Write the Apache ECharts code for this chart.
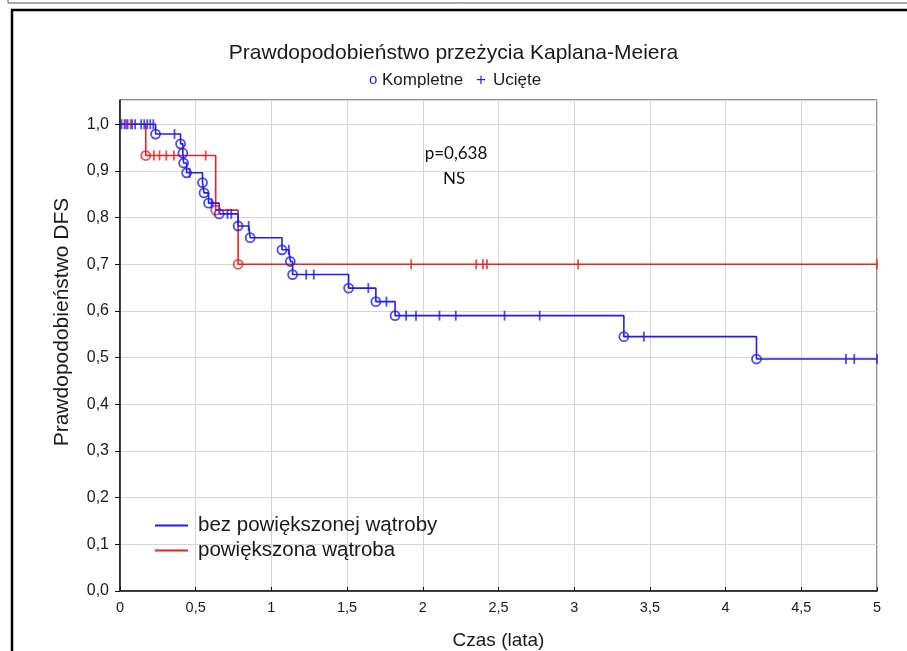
<!DOCTYPE html>
<html>
<head>
<meta charset="utf-8">
<script src="https://cdn.jsdelivr.net/npm/echarts@6/dist/echarts.min.js"></script>
<style>
  html, body { margin: 0; padding: 0; background: #fff; }
  #chart { width: 907px; height: 651px; }
</style>
</head>
<body>
<div id="chart"></div>
<script>
// Axis tick labels (Polish decimal comma)
const xTickLabels = ['0', '0,5', '1', '1,5', '2', '2,5', '3', '3,5', '4', '4,5', '5'];
const yTickLabels = ['0,0', '0,1', '0,2', '0,3', '0,4', '0,5', '0,6', '0,7', '0,8', '0,9', '1,0'];

// Group without enlarged liver: event times (years) and survival after each event
const blueEventTimes = [0.235, 0.40, 0.415, 0.42, 0.44, 0.545, 0.555, 0.585, 0.655, 0.78, 0.86, 1.07, 1.125, 1.14, 1.51, 1.69, 1.817, 3.328, 4.204];
const blueEventSurv  = [0.979, 0.958, 0.938, 0.917, 0.896, 0.875, 0.853, 0.831, 0.808, 0.782, 0.757, 0.731, 0.706, 0.678, 0.649, 0.620, 0.590, 0.545, 0.497];
// censored observations
const blueCensorTimes = [0.01, 0.03, 0.05, 0.08, 0.10, 0.14, 0.16, 0.18, 0.20, 0.22, 0.36, 0.46, 0.605, 0.71, 0.735, 0.85, 1.115, 1.23, 1.28, 1.64, 1.76, 1.89, 1.955, 2.11, 2.218, 2.54, 2.772, 3.46, 4.795, 4.85, 5.0];

// Group with enlarged liver
const redEventTimes = [0.17, 0.632, 0.78];
const redEventSurv  = [0.933, 0.816, 0.700];
const redCensorTimes = [0.04, 0.07, 0.224, 0.261, 0.306, 0.356, 0.566, 1.923, 2.353, 2.397, 2.424, 3.026, 5.0];

const seriesNames = ['bez powiększonej wątroby', 'powiększona wątroba'];
const BLUE = '#1f1fe6';
const RED = '#e8221f';
const FONT = 'Liberation Sans';

// Build step-curve vertices, event points and censor points from the lists
function kmCurve(evT, evS, cenT) {
  const items = [];
  evT.forEach((t, i) => items.push({ t: t, s: evS[i], ev: true }));
  cenT.forEach(t => items.push({ t: t, ev: false }));
  items.sort((a, b) => a.t - b.t || (a.ev ? -1 : 1));
  let cur = 1;
  const line = [[0, 1]], events = [], censors = [];
  items.forEach(it => {
    if (it.ev) { cur = it.s; events.push([it.t, cur]); }
    else censors.push([it.t, cur]);
    line.push([it.t, cur]);
  });
  return { line, events, censors };
}

const blue = kmCurve(blueEventTimes, blueEventSurv, blueCensorTimes);
const red = kmCurve(redEventTimes, redEventSurv, redCensorTimes);

function censorSeries(data, color, z) {
  return {
    type: 'scatter', data: data, symbol: 'rect', symbolSize: [1.8, 10],
    itemStyle: { color: color }, z: z, silent: true
  };
}
function eventSeries(data, color, z) {
  return {
    type: 'scatter', data: data, symbol: 'circle', symbolSize: 9,
    itemStyle: { color: 'rgba(255,255,255,0)', borderColor: color, borderWidth: 1.8 }, z: z, silent: true
  };
}

function label(x, text, fill, size) {
  return {
    type: 'text', x: x, y: 80,
    style: { text: text, fontSize: size || 17, fill: fill, fontFamily: FONT, align: 'left', verticalAlign: 'middle' }
  };
}

const chart = echarts.init(document.getElementById('chart'));
chart.setOption({
  backgroundColor: '#fff',
  animation: false,
  textStyle: { fontFamily: FONT },
  title: {
    text: 'Prawdopodobieństwo przeżycia Kaplana-Meiera',
    left: 'center', top: 38,
    textStyle: { fontSize: 21, fontWeight: 'normal', color: '#1a1a1a', fontFamily: FONT }
  },
  legend: {
    data: seriesNames,
    orient: 'vertical', left: 150, top: 510,
    icon: 'rect',
    itemWidth: 33, itemHeight: 2, itemGap: 4,
    textStyle: { fontSize: 20.5, color: '#1a1a1a', fontFamily: FONT, padding: [0, 0, 0, 5] }
  },
  grid: {
    left: 120, right: 30, top: 100, bottom: 60,
    outerBoundsMode: 'none', containLabel: false,
    show: true, borderColor: '#222', borderWidth: 1
  },
  xAxis: {
    type: 'value', min: 0, max: 5, interval: 0.5,
    name: 'Czas (lata)', nameLocation: 'middle', nameGap: 40,
    nameTextStyle: { fontSize: 19, color: '#1a1a1a', fontFamily: FONT },
    axisLine: { show: true, lineStyle: { color: '#111', width: 1.5 } },
    axisTick: { show: true, inside: true, length: 4, lineStyle: { color: '#111' } },
    axisLabel: {
      fontSize: 14.5, color: '#1a1a1a', margin: 9,
      formatter: v => xTickLabels[Math.round(v / 0.5)]
    },
    splitLine: { show: true, lineStyle: { color: '#d6d6d6', width: 1 } }
  },
  yAxis: {
    type: 'value', min: 0, max: 1.052, interval: 0.1,
    axisLine: { show: true, lineStyle: { color: '#111', width: 1.5 } },
    axisTick: { show: true, inside: false, length: 5, lineStyle: { color: '#111' } },
    axisLabel: {
      fontSize: 16, color: '#1a1a1a', margin: 11, showMaxLabel: false,
      formatter: v => yTickLabels[Math.round(v / 0.1)] || ''
    },
    splitLine: { show: true, lineStyle: { color: '#d6d6d6', width: 1 } }
  },
  graphic: [
    // outer window frame
    { type: 'line', shape: { x1: 8, y1: 3, x2: 907, y2: 3 }, style: { stroke: '#555', lineWidth: 1 } },
    { type: 'line', shape: { x1: 8, y1: 0, x2: 8, y2: 3 }, style: { stroke: '#555', lineWidth: 1 } },
    { type: 'line', shape: { x1: 11, y1: 10, x2: 907, y2: 10 }, style: { stroke: '#000', lineWidth: 2.5 } },
    { type: 'line', shape: { x1: 12, y1: 10, x2: 12, y2: 651 }, style: { stroke: '#000', lineWidth: 2.5 } },
    // y-axis title
    {
      type: 'text', x: 62, y: 322, rotation: Math.PI / 2,
      style: { text: 'Prawdopodobieństwo DFS', fontSize: 21, fill: '#1a1a1a', fontFamily: FONT, align: 'center', verticalAlign: 'middle' }
    },
    // marker key under the title
    label(369, 'o', BLUE, 15),
    label(382, 'Kompletne', '#1a1a1a'),
    label(476, '+', BLUE),
    label(493, 'Ucięte', '#1a1a1a'),
    // test result
    {
      type: 'text', x: 456, y: 154,
      style: { text: 'p=0,638', fontSize: 17, fill: '#111', fontFamily: 'Lato', align: 'center', verticalAlign: 'middle' }
    },
    {
      type: 'text', x: 454, y: 179,
      style: { text: 'NS', fontSize: 17, fill: '#111', fontFamily: 'Lato', align: 'center', verticalAlign: 'middle' }
    }
  ],
  series: [
    {
      name: seriesNames[0], type: 'line', step: 'end', data: blue.line, symbol: 'none',
      lineStyle: { color: BLUE, width: 1.6 }, itemStyle: { color: BLUE }, z: 4, silent: true
    },
    {
      name: seriesNames[1], type: 'line', step: 'end', data: red.line, symbol: 'none',
      lineStyle: { color: RED, width: 1.6 }, itemStyle: { color: RED }, z: 3, silent: true
    },
    censorSeries(red.censors, RED, 5),
    eventSeries(red.events, RED, 5),
    censorSeries(blue.censors, BLUE, 6),
    eventSeries(blue.events, BLUE, 6)
  ]
});
</script>
</body>
</html>
